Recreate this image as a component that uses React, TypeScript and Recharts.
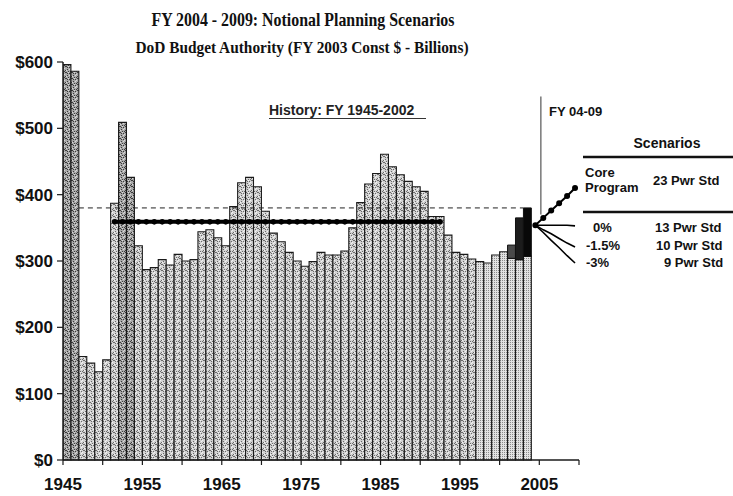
import React from 'react';
import { ComposedChart, Bar, Line, XAxis, YAxis, ReferenceLine, Cell } from 'recharts';

// ---------- data ----------
const FIRST_YEAR = 1945;
const BASE_BUDGET = [
  596, 586, 156, 146, 133, 151, 387, 509, 426, 323, // 1945-1954
  287, 290, 302, 294, 310, 300, 302, 344, 347, 335, // 1955-1964
  323, 382, 418, 426, 412, 375, 342, 329, 313, 300, // 1965-1974
  292, 299, 313, 309, 309, 315, 350, 388, 416, 432, // 1975-1984
  461, 442, 430, 420, 412, 405, 367, 367, 339, 313, // 1985-1994
  310, 303, 299, 297, 309, 314, 304, 302, 307,      // 1995-2003
];
const YEARS = BASE_BUDGET.map((_, i) => FIRST_YEAR + i);
const SUPPLEMENT_YEARS = [2001, 2002, 2003];
const SUPPLEMENT_VALUES = [20, 63, 73];

const AVERAGE_LEVEL = 359;
const AVERAGE_FROM = 1951;
const AVERAGE_TO = 1992;
const PEAK_LEVEL = 380;
const PEAK_FROM = 1947;
const PEAK_TO = 2003;

const FAN_YEARS = [2004, 2005, 2006, 2007, 2008, 2009];
const CORE_PROGRAM = [354, 365, 376, 387, 398, 410];
const ZERO_GROWTH = [354, 354, 354, 354, 354, 353];
const MINUS_1_5 = [354, 347, 341, 334, 327, 321];
const MINUS_3 = [354, 343, 331, 320, 308, 297];

const Y_TICKS = [0, 100, 200, 300, 400, 500, 600];
const X_TICKS = [1945, 1950, 1955, 1960, 1965, 1970, 1975, 1980, 1985, 1990, 1995, 2000, 2005, 2010];
const X_LABELS = [1945, 1955, 1965, 1975, 1985, 1995, 2005];

const DIVIDER_YEAR = 2005.2;
const DIVIDER_RANGE = [370, 548];

// ---------- styles ----------
const DARK_YEARS = [1945, 1946, 1952, 1953];
const FINE_FROM = 1997;
const SUPP_FILLS = ['#4a4a4a', '#1c1c1c', '#080808'];
const SANS = 'Liberation Sans, Arial, Helvetica, sans-serif';
const SERIF = 'Liberation Serif, Times New Roman, serif';

// every series sits at the middle of its fiscal year
const barData = YEARS.map((y, i) => {
  const si = SUPPLEMENT_YEARS.indexOf(y);
  return { x: y + 0.5, year: y, base: BASE_BUDGET[i], supp: si >= 0 ? SUPPLEMENT_VALUES[si] : 0 };
});
const avgData = YEARS.filter((y) => y >= AVERAGE_FROM && y <= AVERAGE_TO).map((y) => ({ x: y + 0.5, v: AVERAGE_LEVEL }));
const fan = (vals: number[]) => FAN_YEARS.map((y, i) => ({ x: y + 0.5, v: vals[i] }));

const baseFill = (y: number) =>
  DARK_YEARS.includes(y) ? 'url(#stipDark)' : y >= FINE_FROM ? 'url(#stipFine)' : 'url(#stipMid)';

const DOTS_A = [
  [0, 0], [3, 1], [5, 4], [1, 3], [4, 5], [2, 5], [5, 0], [1, 1],
];
const DOTS_B = [
  [2, 0], [0, 4], [4, 2], [3, 3],
];

export default function App() {
  return (
    <div style={{ position: 'absolute', left: 0, top: 0, width: 733, height: 496, background: '#fff', overflow: 'hidden' }}>
      <ComposedChart width={733} height={496} data={barData} margin={{ top: 62, right: 154, bottom: 0, left: 0 }}>
        <defs>
          <pattern id="stipMid" width="6" height="6" patternUnits="userSpaceOnUse">
            <rect width="6" height="6" fill="#d2d2d2" />
            {DOTS_A.map(([x, y], i) => (
              <rect key={i} x={x} y={y} width="1" height="1" fill="#6a6a6a" />
            ))}
            {DOTS_B.map(([x, y], i) => (
              <rect key={`w${i}`} x={x} y={y} width="1" height="1" fill="#f2f2f2" />
            ))}
          </pattern>
          <pattern id="stipDark" width="6" height="6" patternUnits="userSpaceOnUse">
            <rect width="6" height="6" fill="#a8a8a8" />
            {DOTS_A.map(([x, y], i) => (
              <rect key={i} x={x} y={y} width="1" height="1" fill="#3c3c3c" />
            ))}
            {DOTS_B.map(([x, y], i) => (
              <rect key={`w${i}`} x={x} y={y} width="1" height="1" fill="#d8d8d8" />
            ))}
          </pattern>
          <pattern id="stipFine" width="2" height="2" patternUnits="userSpaceOnUse">
            <rect width="2" height="2" fill="#e2e2e2" />
            <rect x="0" y="0" width="1" height="1" fill="#8a8a8a" />
          </pattern>
        </defs>
        <XAxis
          type="number"
          dataKey="x"
          domain={[1945, 2010]}
          ticks={X_TICKS}
          interval={0}
          allowDataOverflow
          height={36}
          tickSize={5}
          tickMargin={13}
          tickFormatter={(v: number) => (X_LABELS.includes(v) ? String(v) : '')}
          axisLine={{ stroke: '#1a1a1a', strokeWidth: 1.5 }}
          tickLine={{ stroke: '#1a1a1a', strokeWidth: 1.2 }}
          tick={{ fill: '#111', fontSize: 17, fontWeight: 'bold', fontFamily: SANS }}
        />
        <YAxis
          type="number"
          domain={[0, 600]}
          ticks={Y_TICKS}
          interval={0}
          width={63}
          tickSize={6}
          tickMargin={4}
          tickFormatter={(v: number) => `$${v}`}
          axisLine={{ stroke: '#1a1a1a', strokeWidth: 1.5 }}
          tickLine={{ stroke: '#1a1a1a', strokeWidth: 1.2 }}
          tick={{ fill: '#111', fontSize: 17, fontWeight: 'bold', fontFamily: SANS }}
        />
        <Bar dataKey="base" stackId="a" barSize={7.9} stroke="#1a1a1a" strokeWidth={1.1} isAnimationActive={false}>
          {barData.map((d) => (
            <Cell key={`b${d.year}`} fill={baseFill(d.year)} />
          ))}
        </Bar>
        <Bar dataKey="supp" stackId="a" barSize={7.9} stroke="#111" strokeWidth={1} isAnimationActive={false}>
          {barData.map((d) => {
            const si = SUPPLEMENT_YEARS.indexOf(d.year);
            return <Cell key={`s${d.year}`} fill={si >= 0 ? SUPP_FILLS[si] : 'none'} />;
          })}
        </Bar>
        <ReferenceLine
          segment={[{ x: PEAK_FROM, y: PEAK_LEVEL }, { x: PEAK_TO, y: PEAK_LEVEL }]}
          stroke="#222"
          strokeWidth={1}
          strokeDasharray="5 4"
        />
        <ReferenceLine
          segment={[{ x: DIVIDER_YEAR, y: DIVIDER_RANGE[0] }, { x: DIVIDER_YEAR, y: DIVIDER_RANGE[1] }]}
          stroke="#333"
          strokeWidth={1}
        />
        <Line
          data={avgData}
          dataKey="v"
          type="linear"
          stroke="#000"
          strokeWidth={4}
          dot={{ r: 2.8, fill: '#000', stroke: '#000', strokeWidth: 0 }}
          isAnimationActive={false}
        />
        <Line data={fan(CORE_PROGRAM)} dataKey="v" stroke="#000" strokeWidth={2} dot={{ r: 2, fill: '#000', stroke: '#000' }} isAnimationActive={false} />
        <Line data={fan(ZERO_GROWTH)} dataKey="v" stroke="#000" strokeWidth={1.6} dot={false} isAnimationActive={false} />
        <Line data={fan(MINUS_1_5)} dataKey="v" stroke="#000" strokeWidth={1.6} dot={false} isAnimationActive={false} />
        <Line data={fan(MINUS_3)} dataKey="v" stroke="#000" strokeWidth={1.6} dot={false} isAnimationActive={false} />
      </ComposedChart>

      <svg width={733} height={496} style={{ position: 'absolute', left: 0, top: 0, pointerEvents: 'none' }}>
        <text x={303} y={26} textAnchor="middle" fontFamily={SERIF} fontWeight="bold" fontSize={19} fill="#111" textLength={303} lengthAdjust="spacingAndGlyphs">
          FY 2004 - 2009: Notional Planning Scenarios
        </text>
        <text x={302} y={53} textAnchor="middle" fontFamily={SERIF} fontWeight="bold" fontSize={16} fill="#111" textLength={333} lengthAdjust="spacingAndGlyphs">
          DoD Budget Authority (FY 2003 Const $ - Billions)
        </text>

        <text x={269} y={115} fontFamily={SANS} fontWeight="bold" fontSize={14} fill="#222">
          History: FY 1945-2002
        </text>
        <line x1={269} y1={118.5} x2={426} y2={118.5} stroke="#333" strokeWidth={1} />

        <text x={549} y={116} fontFamily={SANS} fontWeight="bold" fontSize={13} fill="#111">FY 04-09</text>

        <text x={667} y={148} textAnchor="middle" fontFamily={SANS} fontWeight="bold" fontSize={14} fill="#111">Scenarios</text>
        <line x1={583} y1={157} x2={733} y2={157} stroke="#111" strokeWidth={2.5} />
        <text x={585} y={177} fontFamily={SANS} fontWeight="bold" fontSize={13} fill="#111">Core</text>
        <text x={585} y={192} fontFamily={SANS} fontWeight="bold" fontSize={13} fill="#111">Program</text>
        <text x={653} y={185} fontFamily={SANS} fontWeight="bold" fontSize={13} fill="#111">23 Pwr Std</text>
        <line x1={583} y1={212} x2={733} y2={212} stroke="#111" strokeWidth={2.5} />
        <text x={593} y={232} fontFamily={SANS} fontWeight="bold" fontSize={13} fill="#111">0%</text>
        <text x={655} y={232} fontFamily={SANS} fontWeight="bold" fontSize={13} fill="#111">13 Pwr Std</text>
        <text x={586} y={250} fontFamily={SANS} fontWeight="bold" fontSize={13} fill="#111">-1.5%</text>
        <text x={656} y={250} fontFamily={SANS} fontWeight="bold" fontSize={13} fill="#111">10  Pwr Std</text>
        <text x={586} y={267} fontFamily={SANS} fontWeight="bold" fontSize={13} fill="#111">-3%</text>
        <text x={664} y={267} fontFamily={SANS} fontWeight="bold" fontSize={13} fill="#111">9 Pwr Std</text>
      </svg>
    </div>
  );
}
